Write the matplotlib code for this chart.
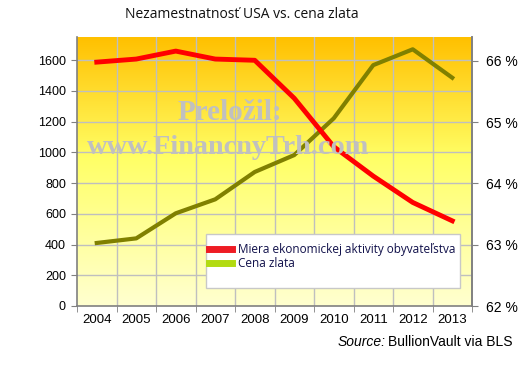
import matplotlib
matplotlib.use("Agg")
import matplotlib.pyplot as plt
import numpy as np
from matplotlib.colors import LinearSegmentedColormap
from matplotlib.lines import Line2D
from matplotlib.patches import Rectangle

years = ["2004", "2005", "2006", "2007", "2008", "2009", "2010", "2011", "2012", "2013"]
gold_price = [410, 440, 603, 694, 872, 982, 1221, 1567, 1670, 1485]
participation = [65.98, 66.03, 66.16, 66.03, 66.01, 65.39, 64.60, 64.12, 63.69, 63.39]
left_ticks = [0, 200, 400, 600, 800, 1000, 1200, 1400, 1600]
right_ticks = [62, 63, 64, 65, 66]

title = "Nezamestnatnosť USA vs. cena zlata"
label_part = "Miera ekonomickej aktivity obyvateľstva"
label_gold = "Cena zlata"

W, H = 530, 365
fig = plt.figure(figsize=(W / 100, H / 100), dpi=100)
fig.patch.set_facecolor("white")
L, R, T, B = 77, 472, 37, 306
ax = fig.add_axes([L / W, 1 - B / H, (R - L) / W, (B - T) / H])

n = len(years)
x = np.arange(n)
ax.set_xlim(-0.5, n - 0.5)
ax.set_ylim(0, 1750)

cmap = LinearSegmentedColormap.from_list(
    "bg", [(0.0, "#FFC000"), (0.45, "#FFFF66"), (1.0, "#FFFFD0")])
grad = np.linspace(0, 1, 256).reshape(-1, 1)
ax.imshow(grad, cmap=cmap, aspect="auto", extent=(-0.5, n - 0.5, 0, 1750),
          origin="upper", zorder=0)

for yv in left_ticks[1:]:
    ax.axhline(yv, color="#BFBFBF", lw=1, zorder=1)
for xv in np.arange(0.5, n - 0.5, 1):
    ax.axvline(xv, color="#BFBFBF", lw=1, zorder=1)

ax.plot(x, gold_price, color="#808000", lw=3, zorder=3, solid_joinstyle="round")

ax.set_yticks(left_ticks)
ax.set_yticklabels([str(v) for v in left_ticks], fontsize=9, family="Liberation Sans")
ax.set_xticks(x)
ax.set_xticklabels(years, fontsize=9.5, family="Liberation Sans")
ax.set_xticks(np.arange(-0.5, n, 1), minor=True)
ax.tick_params(axis="x", which="major", length=0, pad=6)
ax.tick_params(axis="x", which="minor", length=4, color="#808080", direction="out")
ax.tick_params(axis="y", length=4, color="#808080", direction="out", pad=4)

ax.spines["top"].set_visible(False)
for s in ["left", "bottom", "right"]:
    ax.spines[s].set_color("#808080")
    ax.spines[s].set_linewidth(1.2)

ax2 = ax.twinx()
ax2.set_ylim(62, 66.39)
ax2.plot(x, participation, color="#FF0000", lw=3.5, zorder=4, solid_joinstyle="round")
ax2.set_yticks(right_ticks)
ax2.set_yticklabels([f"{v} %" for v in right_ticks], fontsize=10, family="Liberation Sans")
ax2.tick_params(axis="y", length=4, color="#808080", direction="out", pad=6)
for s in ["top", "left", "bottom"]:
    ax2.spines[s].set_visible(False)
ax2.spines["right"].set_color("#808080")
ax2.spines["right"].set_linewidth(1.2)
ax2.patch.set_visible(False)

# watermark
fig.text(230 / W, 1 - 112 / H, "Preložil:", fontsize=21, family="Liberation Serif",
         weight="bold", color="#C0C0C0", ha="center", va="center", zorder=10)
fig.text(228 / W, 1 - 148 / H, "www.FinancnyTrh.com", fontsize=20.3, family="Liberation Serif",
         weight="bold", color="#C0C0C0", ha="center", va="center", zorder=10)

# legend box
box = Rectangle((206 / W, 1 - 288 / H), (460 - 206) / W, (288 - 234) / H,
                transform=fig.transFigure, facecolor="white", edgecolor="#C8C8C8",
                lw=1, zorder=15)
fig.add_artist(box)

handles = [Line2D([], [], color="#EE1C24", lw=5),
           Line2D([], [], color="#B2DB11", lw=5)]
leg = fig.legend(handles, [label_part, label_gold], loc="upper left",
                 bbox_to_anchor=(204 / W, 1 - 238 / H),
                 prop={"family": "Open Sans", "size": 8.5}, frameon=False,
                 handlelength=2.0, borderpad=0.4, labelspacing=0.15,
                 handletextpad=0.5, borderaxespad=0)
leg.set_zorder(20)
for t in leg.get_texts():
    t.set_color("#10104A")

fig.text(242 / W, 1 - 15 / H, title, fontsize=10, family="Open Sans",
         ha="center", va="center", color="#111111")

fig.text(512 / W, 1 - 342 / H, "BullionVault via BLS", fontsize=10,
         family="Liberation Sans", ha="right", va="center")
fig.text(386 / W, 1 - 342 / H, "Source:", fontsize=10, style="italic",
         family="Liberation Sans", ha="right", va="center")

fig.savefig("out.png", dpi=100)
